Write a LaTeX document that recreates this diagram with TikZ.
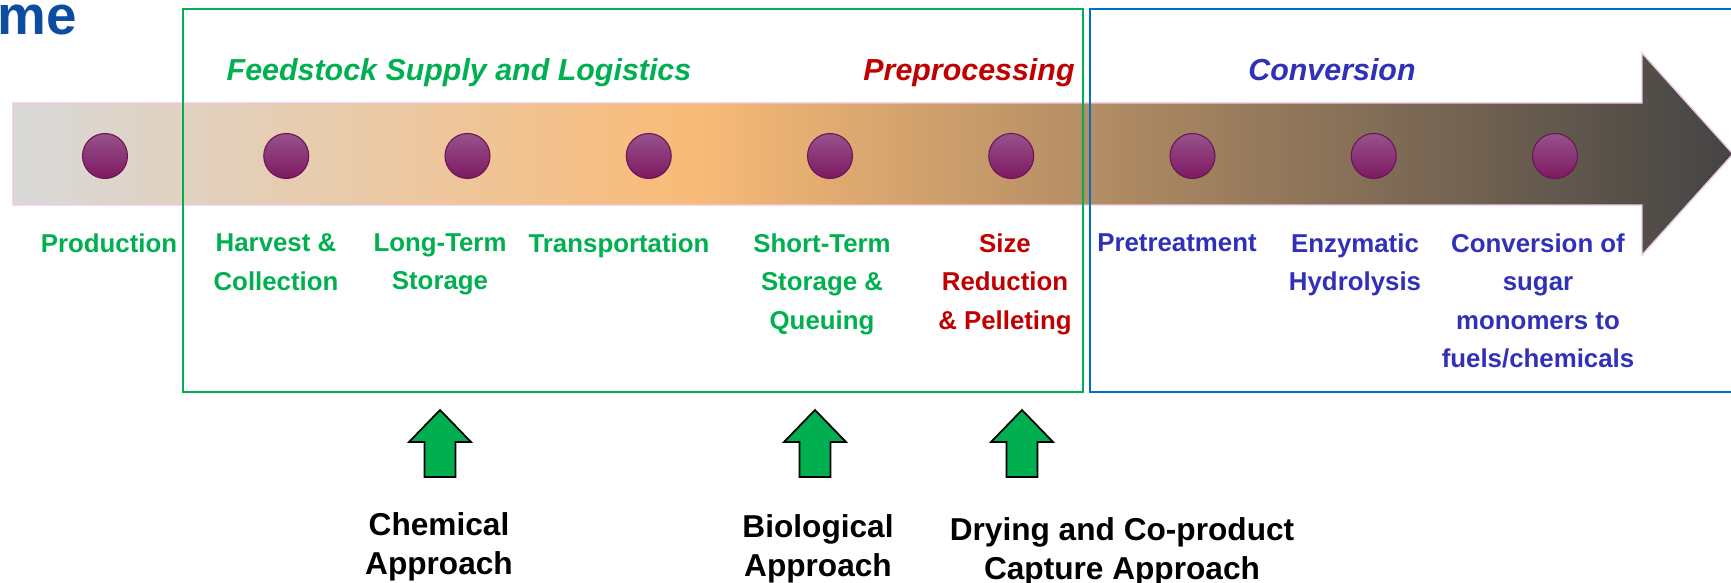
\documentclass[tikz,border=0pt]{standalone}
\usepackage{fontspec}
\setmainfont{Liberation Sans}
\usepackage{xcolor}
\usepackage{tikz}
\usetikzlibrary{positioning}

\definecolor{fsgreen}{HTML}{00B050}
\definecolor{ppred}{HTML}{C00000}
\definecolor{cvblue}{HTML}{3030B8}
\definecolor{boxblue}{HTML}{0070C0}
\definecolor{headblue}{HTML}{0C4DA2}
\definecolor{bandgrey}{HTML}{D9D9D9}
\definecolor{bandorange}{HTML}{F9BB78}
\definecolor{banddark}{HTML}{444444}
\definecolor{bandedge}{HTML}{EBC9E2}
\definecolor{dottop}{HTML}{96538B}
\definecolor{dotbase}{HTML}{7E1862}

% grey -> orange -> dark grey along the timeline
\pgfdeclarehorizontalshading{bandshade}{100bp}{color(0bp)=(bandgrey); color(25bp)=(bandgrey); color(44.7bp)=(bandorange); color(75bp)=(banddark); color(100bp)=(banddark)}

\tikzset{
	stagetitle/.style={font=\fontsize{8.65}{10}\selectfont\bfseries\itshape, anchor=base, inner sep=0pt},
	stagelabel/.style={font=\fontsize{7.35}{10.95}\selectfont\bfseries, align=center, anchor=north, inner sep=0pt},
	approach/.style={font=\fontsize{9}{11}\selectfont\bfseries, align=center, anchor=north, inner sep=0pt},
	stagedot/.style={circle, minimum size=0.45cm, inner sep=0pt, draw=dotbase!85!black, line width=0.3pt, top color=dottop, middle color=dotbase, bottom color=dotbase},
	uparrow/.style={draw=black, line width=0.5pt, fill=fsgreen, line join=miter},
}

\begin{document}
\begin{tikzpicture}
		\useasboundingbox (0,0) rectangle (17.31,5.83);
		\node[font=\fontsize{15.6}{17}\selectfont\bfseries, text=headblue, anchor=base west, inner sep=0pt] (head) at (-0.03,5.48) {me};

		% timeline band with arrow head
		\shade[shading=bandshade, draw=bandedge, line width=0.4pt] (0.13,3.78) -- (0.13,4.80) -- (16.42,4.80) -- (16.42,5.30) -- (17.33,4.29) -- (16.42,3.28) -- (16.42,3.78) -- cycle;

		% stage boxes
		\draw[fsgreen, line width=0.6pt] (1.83,1.91) rectangle (10.83,5.74);
		\draw[boxblue, line width=0.6pt] (10.90,1.91) rectangle (17.60,5.74);

		\node[stagetitle, text=fsgreen] (feedstock) at (4.59,5.02) {Feedstock Supply and Logistics};
		\node[stagetitle, text=ppred] (preproc) at (9.69,5.02) {Preprocessing};
		\node[stagetitle, text=cvblue] (conversion) at (13.32,5.02) {Conversion};

		% one dot per step
		\foreach \i in {1,...,9}
			\node[stagedot] (p\i) at ({1.05+1.8125*(\i-1)},4.27) {};

		\node[stagelabel, text=fsgreen] (production) at (1.09,3.50) {Production};
		\node[stagelabel, text=fsgreen] (harvest) at (2.76,3.50) {Harvest \&\\Collection};
		\node[stagelabel, text=fsgreen] (longterm) at (4.40,3.50) {Long-Term\\Storage};
		\node[stagelabel, text=fsgreen] (transport) at (6.19,3.50) {Transportation};
		\node[stagelabel, text=fsgreen] (shortterm) at (8.22,3.50) {Short-Term\\Storage \&\\Queuing};
		\node[stagelabel, text=ppred] (sizered) at (10.05,3.50) {Size\\Reduction\\\& Pelleting};
		\node[stagelabel, text=cvblue] (pretreat) at (11.77,3.50) {Pretreatment};
		\node[stagelabel, text=cvblue] (hydrolysis) at (13.55,3.50) {Enzymatic\\Hydrolysis};
		\node[stagelabel, text=cvblue] (sugars) at (15.38,3.50) {Conversion of\\sugar\\monomers to\\fuels/chemicals};

		% green block arrows pointing up at the steps
		\foreach \cx in {4.40,8.15,10.22}
			\draw[uparrow, shift={(\cx,0)}] (-0.155,1.06) -- (-0.155,1.41) -- (-0.31,1.41) -- (0,1.73) -- (0.31,1.41) -- (0.155,1.41) -- (0.155,1.06) -- cycle;

		\node[approach] (chemical) at (4.39,0.71) {Chemical\\Approach};
		\node[approach] (biological) at (8.18,0.69) {Biological\\Approach};
		\node[approach] (drying) at (11.22,0.66) {Drying and Co-product\\Capture Approach};
	\end{tikzpicture}
\end{document}
